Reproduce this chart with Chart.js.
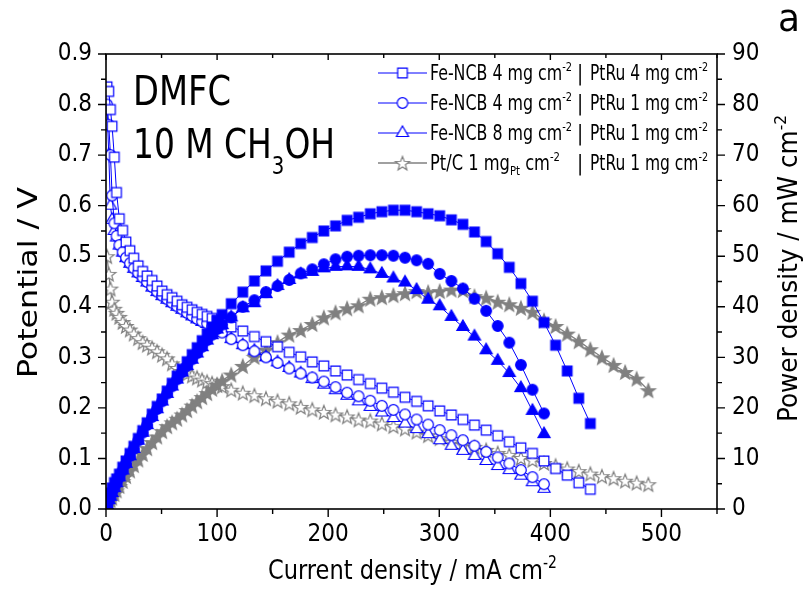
<!DOCTYPE html>
<html><head><meta charset="utf-8">
<script src="https://cdn.jsdelivr.net/npm/chart.js@4.4.1/dist/chart.umd.min.js"></script>
<style>html,body{margin:0;padding:0;background:#fff;}#wrap{width:807px;height:590px;}</style>
</head><body><div id="wrap"><canvas id="c" width="807" height="590"></canvas></div>
<script>
// ---------- DATA ----------
// current density, mA cm-2 (dense start, then regular steps)
const currentLow = [1, 2.5, 4, 5.5, 7.5, 9.5, 12, 15, 18, 21.5, 25, 29, 33, 37, 41.5, 46, 50.5, 55, 59.5, 64, 68.5, 73, 77.5, 82, 86.5, 91, 95.5, 100, 104.5];
const currentHigh = [112.7, 123.1, 133.6, 144.0, 154.4, 164.9, 175.3, 185.7, 196.1, 206.6, 217.0, 227.4, 237.9, 248.3, 258.7, 269.2, 279.6, 290.0, 300.4, 310.9, 321.3, 331.7, 342.2, 352.6, 363.0, 373.5, 383.9, 394.3, 404.7, 415.2, 425.6, 436.0, 446.4, 456.9, 467.3, 477.7, 488.2];

// Fe-NCB 4 | PtRu 4 (squares)
const potSq = [0.835, 0.826, 0.79, 0.757, 0.696, 0.626, 0.574, 0.551, 0.528, 0.511, 0.496, 0.481, 0.470, 0.461, 0.452, 0.441, 0.431, 0.424, 0.418, 0.411, 0.404, 0.399, 0.394, 0.389, 0.385, 0.381, 0.377, 0.373, 0.368,
  0.360, 0.352, 0.341, 0.331, 0.321, 0.310, 0.301, 0.291, 0.283, 0.273, 0.265, 0.256, 0.248, 0.239, 0.231, 0.221, 0.213, 0.204, 0.194, 0.186, 0.177, 0.166, 0.156, 0.145, 0.133, 0.121, 0.110, 0.095, 0.080, 0.067, 0.052, 0.039];
const powSq = [0.84, 2.07, 3.16, 4.16, 5.22, 5.95, 6.89, 8.27, 9.50, 10.99, 12.40, 13.95, 15.51, 17.06, 18.76, 20.29, 21.77, 23.32, 24.87, 26.30, 27.67, 29.13, 30.54, 31.90, 33.30, 34.67, 36.00, 37.30, 38.46,
  40.6, 42.9, 45.1, 47.1, 49.0, 50.8, 52.5, 53.7, 55.0, 56.0, 57.1, 57.7, 58.4, 58.8, 59.1, 59.1, 58.8, 58.4, 58.0, 57.2, 56.3, 54.8, 52.9, 50.5, 47.8, 44.6, 41.1, 36.9, 32.4, 27.3, 21.9, 16.9];

// Fe-NCB 4 | PtRu 1 (circles)
const potCi = [0.80, 0.76, 0.70, 0.62, 0.565, 0.54, 0.522, 0.508, 0.497, 0.486, 0.476, 0.467, 0.458, 0.449, 0.439, 0.430, 0.422, 0.415, 0.408, 0.401, 0.395, 0.388, 0.382, 0.376, 0.371, 0.367, 0.361, 0.356, 0.349,
  0.336, 0.324, 0.312, 0.300, 0.289, 0.278, 0.268, 0.260, 0.252, 0.241, 0.230, 0.223, 0.214, 0.204, 0.196, 0.187, 0.177, 0.167, 0.156, 0.146, 0.136, 0.125, 0.113, 0.102, 0.090, 0.077, 0.063, 0.049];
const powCi = [0.80, 1.90, 2.80, 3.41, 4.24, 5.13, 6.26, 7.62, 8.95, 10.45, 11.90, 13.54, 15.11, 16.61, 18.22, 19.78, 21.31, 22.83, 24.28, 25.66, 27.06, 28.32, 29.61, 30.83, 32.09, 33.40, 34.48, 35.60, 36.47,
  37.9, 40.0, 41.3, 42.9, 44.1, 45.3, 46.6, 47.4, 48.4, 49.4, 49.9, 50.1, 50.2, 50.2, 50.1, 49.7, 49.2, 48.5, 46.5, 45.1, 43.6, 41.6, 39.2, 36.2, 32.9, 28.5, 23.6, 18.9];

// Fe-NCB 8 | PtRu 1 (triangles)
const potTr = [0.79, 0.70, 0.60, 0.572, 0.55, 0.537, 0.521, 0.507, 0.496, 0.485, 0.475, 0.466, 0.457, 0.448, 0.438, 0.429, 0.421, 0.414, 0.407, 0.400, 0.394, 0.387, 0.381, 0.375, 0.370, 0.366, 0.360, 0.355, 0.348,
  0.336, 0.324, 0.313, 0.300, 0.290, 0.279, 0.268, 0.257, 0.246, 0.235, 0.224, 0.213, 0.202, 0.191, 0.180, 0.169, 0.158, 0.148, 0.136, 0.125, 0.115, 0.105, 0.095, 0.085, 0.077, 0.066, 0.053, 0.040];
const powTr = [0.79, 1.75, 2.40, 3.15, 4.13, 5.10, 6.25, 7.61, 8.93, 10.43, 11.88, 13.51, 15.08, 16.58, 18.18, 19.73, 21.26, 22.77, 24.22, 25.60, 26.99, 28.25, 29.53, 30.75, 32.00, 33.31, 34.38, 35.50, 36.37,
  37.9, 39.7, 40.7, 42.5, 44.1, 45.3, 46.4, 46.9, 47.6, 47.9, 48.0, 47.9, 47.4, 46.5, 45.6, 44.8, 43.3, 41.4, 40.1, 38.0, 36.0, 34.1, 31.4, 29.3, 26.9, 23.9, 19.4, 14.8];

// Pt/C 1 | PtRu 1 (stars)
const potSt = [0.50, 0.465, 0.436, 0.41, 0.396, 0.388, 0.38, 0.37, 0.362, 0.355, 0.347, 0.338, 0.33, 0.325, 0.319, 0.312, 0.305, 0.298, 0.288, 0.279, 0.273, 0.268, 0.264, 0.26, 0.256, 0.252, 0.249, 0.246, 0.243,
  0.236, 0.230, 0.225, 0.219, 0.214, 0.209, 0.202, 0.197, 0.192, 0.187, 0.183, 0.177, 0.175, 0.169, 0.164, 0.159, 0.153, 0.146, 0.140, 0.133, 0.128, 0.123, 0.117, 0.111, 0.107, 0.101, 0.097, 0.091, 0.086, 0.080, 0.075, 0.070, 0.065, 0.061, 0.056, 0.052, 0.049];
const powSt = [0.50, 1.16, 1.74, 2.26, 2.97, 3.69, 4.56, 5.55, 6.52, 7.63, 8.68, 9.80, 10.89, 12.03, 13.24, 14.35, 15.40, 16.39, 17.14, 17.86, 18.70, 19.56, 20.46, 21.32, 22.14, 22.93, 23.78, 24.60, 25.39,
  26.6, 28.3, 30.1, 31.5, 33.0, 34.5, 35.4, 36.6, 37.9, 38.9, 39.7, 40.3, 41.6, 41.9, 42.3, 42.7, 43.1, 42.9, 43.1, 43.4, 43.3, 42.1, 41.8, 41.0, 40.5, 39.8, 39.0, 37.3, 36.2, 34.7, 33.2, 31.6, 30.0, 28.5, 27.1, 25.8, 23.5];

const xTicks = [0, 100, 200, 300, 400, 500];
const legendLabels = [
  [[['Fe-NCB 4 mg cm', 'n'], ['-2', 'sup']], [['PtRu 4 mg cm', 'n'], ['-2', 'sup']]],
  [[['Fe-NCB 4 mg cm', 'n'], ['-2', 'sup']], [['PtRu 1 mg cm', 'n'], ['-2', 'sup']]],
  [[['Fe-NCB 8 mg cm', 'n'], ['-2', 'sup']], [['PtRu 1 mg cm', 'n'], ['-2', 'sup']]],
  [[['Pt/C 1 mg', 'n'], ['Pt', 'sub'], [' cm', 'n'], ['-2', 'sup']], [['PtRu 1 mg cm', 'n'], ['-2', 'sup']]]
];

// ---------- STYLE ----------
const FONT = "'Liberation Sans Narrow', 'DejaVu Sans Condensed', 'Liberation Sans', Arial, sans-serif";
const BLUE = '#0000ff', GRAY = '#808080';
const current = currentLow.concat(currentHigh);

function mk(shape, filled, color) {
  const s = 20, c = document.createElement('canvas');
  c.width = s; c.height = s;
  const g = c.getContext('2d'), cx = s / 2, cy = s / 2;
  g.beginPath();
  if (shape === 'rect') { const h = 4.8; g.rect(cx - h, cy - h, 2 * h, 2 * h); }
  else if (shape === 'circle') { g.arc(cx, cy, 5.3, 0, Math.PI * 2); }
  else if (shape === 'tri') { const r = 7; g.moveTo(cx, cy - r); g.lineTo(cx + r * 0.866, cy + r * 0.5); g.lineTo(cx - r * 0.866, cy + r * 0.5); g.closePath(); }
  else if (shape === 'star') {
    const ro = 7.4, ri = 3.1;
    for (let i = 0; i < 10; i++) {
      const a = -Math.PI / 2 + i * Math.PI / 5, r = i % 2 ? ri : ro;
      const px = cx + r * Math.cos(a), py = cy + 0.8 + r * Math.sin(a);
      i ? g.lineTo(px, py) : g.moveTo(px, py);
    }
    g.closePath();
  }
  g.fillStyle = filled ? color : '#ffffff';
  g.fill();
  g.lineWidth = 1.2; g.strokeStyle = color; g.stroke();
  return c;
}
const M = {
  sqO: mk('rect', false, BLUE), sqF: mk('rect', true, BLUE),
  ciO: mk('circle', false, BLUE), ciF: mk('circle', true, BLUE),
  trO: mk('tri', false, BLUE), trF: mk('tri', true, BLUE),
  stO: mk('star', false, GRAY), stF: mk('star', true, GRAY)
};

function pts(vals) { return vals.map((v, i) => ({ x: current[i], y: v })); }
function ds(label, vals, axis, color, marker, lw) {
  return { label, data: pts(vals), yAxisID: axis, showLine: true, borderColor: color, backgroundColor: color,
    borderWidth: lw, pointStyle: marker, pointRadius: 6, pointHoverRadius: 6, tension: 0, fill: false };
}

const datasets = [
  ds('sq-pow', powSq, 'y1', BLUE, M.sqF, 1),
  ds('ci-pow', powCi, 'y1', BLUE, M.ciF, 1),
  ds('tr-pow', powTr, 'y1', BLUE, M.trF, 1),
  ds('sq-pot', potSq, 'y', BLUE, M.sqO, 1),
  ds('ci-pot', potCi, 'y', BLUE, M.ciO, 1),
  ds('tr-pot', potTr, 'y', BLUE, M.trO, 1),
  ds('st-pow', powSt, 'y1', GRAY, M.stF, 1.3),
  ds('st-pot', potSt, 'y', GRAY, M.stO, 1.3)
];

function richW(ctx, parts, size, sr) {
  let w = 0;
  for (const [t, k] of parts) { ctx.font = (k === 'n' ? size : size * sr) + 'px ' + FONT; w += ctx.measureText(t).width; }
  return w;
}
function drawRich(ctx, x, y, parts, size, targetW, o) {
  o = Object.assign({ sr: 0.62, sup: -0.42, sub: 0.3 }, o || {});
  const w = richW(ctx, parts, size, o.sr);
  const k = targetW ? targetW / w : 1;
  ctx.save(); ctx.translate(x, y); ctx.scale(k, 1);
  ctx.fillStyle = '#000'; ctx.textBaseline = 'alphabetic'; ctx.textAlign = 'left';
  let cx = 0;
  for (const [t, kd] of parts) {
    ctx.font = (kd === 'n' ? size : size * o.sr) + 'px ' + FONT;
    const dy = kd === 'sup' ? size * o.sup : kd === 'sub' ? size * o.sub : 0;
    ctx.fillText(t, cx, dy);
    cx += ctx.measureText(t).width;
  }
  ctx.restore();
}

const decor = {
  id: 'decor',
  afterDraw(chart) {
    const ctx = chart.ctx, a = chart.chartArea;
    const xs = chart.scales.x, ys = chart.scales.y, y1 = chart.scales.y1;
    ctx.save();
    ctx.strokeStyle = '#000'; ctx.lineWidth = 1.6;
    ctx.strokeRect(a.left, a.top, a.right - a.left, a.bottom - a.top);
    ctx.lineWidth = 1.4;
    ctx.beginPath();
    for (let v = 0; v <= 550; v += 50) {
      const px = xs.getPixelForValue(v), L = v % 100 === 0 ? 8 : 5;
      ctx.moveTo(px, a.bottom); ctx.lineTo(px, a.bottom + L);
      ctx.moveTo(px, a.top); ctx.lineTo(px, a.top + (v % 100 === 0 ? 6 : 4));
    }
    for (let i = 0; i <= 18; i++) {
      const py = ys.getPixelForValue(i * 0.05), L = i % 2 === 0 ? 8 : 5;
      ctx.moveTo(a.left, py); ctx.lineTo(a.left - L, py);
    }
    for (let i = 0; i <= 18; i++) {
      const py = y1.getPixelForValue(i * 5), L = i % 2 === 0 ? 8 : 5;
      ctx.moveTo(a.right, py); ctx.lineTo(a.right + L, py);
    }
    ctx.stroke();
    ctx.restore();

    // axis titles
    drawRich(ctx, 268, 579, [['Current density / mA cm', 'n'], ['-2', 'sup']], 27, 289);
    ctx.save(); ctx.translate(37, 378); ctx.rotate(-Math.PI / 2);
    drawRich(ctx, 0, 0, [['Potential / V', 'n']], 27, 191);
    ctx.restore();
    ctx.save(); ctx.translate(797, 422); ctx.rotate(-Math.PI / 2);
    drawRich(ctx, 0, 0, [['Power density / mW cm', 'n'], ['-2', 'sup']], 26, 307);
    ctx.restore();

    // panel letter and annotation
    drawRich(ctx, 778, 31, [['a', 'n']], 38, 22);
    drawRich(ctx, 133, 105, [['DMFC', 'n']], 41, 98);
    drawRich(ctx, 133, 158, [['10 M CH', 'n'], ['3', 'sub'], ['OH', 'n']], 41, 202, { sr: 0.6, sub: 0.4 });

    // legend
    const marks = [M.sqO, M.ciO, M.trO, M.stO], cols = [BLUE, BLUE, BLUE, GRAY];
    for (let r = 0; r < 4; r++) {
      const base = 80 + 30 * r, cy = base - 7;
      ctx.save();
      ctx.strokeStyle = cols[r]; ctx.lineWidth = r === 3 ? 1.3 : 1;
      ctx.beginPath(); ctx.moveTo(378, cy); ctx.lineTo(427, cy); ctx.stroke();
      ctx.drawImage(marks[r], 402.5 - marks[r].width / 2, cy - marks[r].height / 2);
      ctx.restore();
      const [p1, p2] = legendLabels[r];
      drawRich(ctx, 430, base, p1, 20.5, r === 3 ? 130 : 142, { sr: 0.62, sup: -0.42, sub: 0.25 });
      drawRich(ctx, 577, base, [['|', 'n']], 20.5, 0);
      drawRich(ctx, 590, base, p2, 20.5, 118);
    }
  }
};

new Chart(document.getElementById('c'), {
  type: 'scatter',
  data: { datasets },
  options: {
    responsive: false, animation: false, devicePixelRatio: 1,
    layout: { padding: { top: 54, left: 0, right: 0, bottom: 0 } },
    plugins: { legend: { display: false }, tooltip: { enabled: false } },
    scales: {
      x: {
        type: 'linear', position: 'bottom', min: 0, max: 550,
        grid: { display: false, drawTicks: true, tickLength: 8 }, border: { display: false },
        afterBuildTicks: s => { s.ticks = xTicks.map(v => ({ value: v })); },
        afterFit: s => { s.height = 81; },
        ticks: { font: { family: FONT, size: 24 }, color: '#000', padding: 3, maxRotation: 0, autoSkip: false }
      },
      y: {
        type: 'linear', position: 'left', min: 0, max: 0.9,
        grid: { display: false, drawTicks: true, tickLength: 8 }, border: { display: false },
        afterFit: s => { s.width = 106; },
        ticks: { stepSize: 0.1, font: { family: FONT, size: 24 }, color: '#000', padding: 6, callback: v => Number(v).toFixed(1) }
      },
      y1: {
        type: 'linear', position: 'right', min: 0, max: 90,
        grid: { display: false, drawTicks: true, tickLength: 8 }, border: { display: false },
        afterFit: s => { s.width = 90; },
        ticks: { stepSize: 10, font: { family: FONT, size: 24 }, color: '#000', padding: 7 }
      }
    }
  },
  plugins: [decor]
});
</script></body></html>
